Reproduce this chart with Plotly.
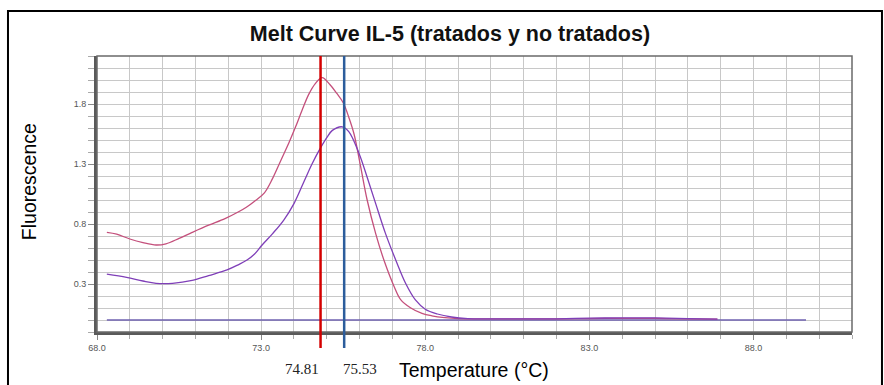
import plotly.graph_objects as go

# ---- data ----
temp_a = [68.3, 68.6, 69.0, 69.4, 69.8, 70.1, 70.5, 70.9, 71.4, 71.9, 72.3, 72.55, 72.8,
          73.1, 73.35, 73.6, 73.85, 74.05, 74.25, 74.45, 74.65, 74.86, 75.1, 75.3, 75.5,
          75.67, 75.83, 76.03, 76.23, 76.49, 76.74, 77.05, 77.25, 77.56, 77.9, 78.2, 78.6,
          79.0, 80.0, 81.0, 82.0, 83.0, 84.0, 85.0, 86.0, 86.9]
fluor_a = [0.73, 0.715, 0.675, 0.645, 0.625, 0.635, 0.68, 0.73, 0.79, 0.845, 0.9, 0.94, 0.99,
           1.06, 1.18, 1.33, 1.48, 1.61, 1.75, 1.88, 1.97, 2.02, 1.96, 1.89, 1.81,
           1.69, 1.55, 1.28, 1.0, 0.72, 0.5, 0.28, 0.17, 0.10, 0.055, 0.035, 0.02,
           0.012, 0.01, 0.01, 0.01, 0.012, 0.014, 0.013, 0.01, 0.008]

temp_b = [68.3, 68.9, 69.4, 69.8, 70.3, 70.9, 71.4, 71.96, 72.3, 72.57, 72.8, 73.03, 73.35,
          73.69, 74.0, 74.3, 74.55, 74.8, 75.0, 75.17, 75.47, 75.67, 75.98, 76.23, 76.49,
          76.79, 77.1, 77.4, 77.7, 78.0, 78.37, 78.8, 79.3, 80.0, 81.0, 82.0, 83.0, 84.0,
          85.0, 86.0, 86.9]
fluor_b = [0.383, 0.356, 0.325, 0.306, 0.306, 0.33, 0.37, 0.417, 0.46, 0.5, 0.55, 0.625, 0.72,
           0.833, 0.97, 1.15, 1.3, 1.43, 1.52, 1.58, 1.61, 1.57, 1.39, 1.19, 0.97,
           0.72, 0.5, 0.306, 0.167, 0.09, 0.05, 0.025, 0.012, 0.01, 0.01, 0.01, 0.015, 0.018,
           0.017, 0.012, 0.008]

baseline_temp = [68.3, 89.6]
baseline_fluor = [0.0, 0.0]

peak_temps = [74.81, 75.53]
peak_labels = ["74.81", "75.53"]
peak_colors = ["#d40000", "#2c5d9c"]

x_range = [68.0, 91.0]
y_range = [-0.1, 2.2]

fig = go.Figure()
fig.add_trace(go.Scatter(x=baseline_temp, y=baseline_fluor, mode="lines",
                         line=dict(color="#6f62b0", width=1.5), hoverinfo="skip"))
fig.add_trace(go.Scatter(x=temp_a, y=fluor_a, mode="lines", line_shape="spline",
                         line=dict(color="#c4507c", width=1.3), name="A"))
fig.add_trace(go.Scatter(x=temp_b, y=fluor_b, mode="lines", line_shape="spline",
                         line=dict(color="#7f3fb8", width=1.3), name="B"))

shapes = []
# plot frame (thin grey top/right)
shapes.append(dict(type="rect", xref="paper", yref="paper", x0=0, x1=1, y0=0, y1=1,
                   line=dict(color="#6a6a6a", width=1.5), layer="above"))
# outer black frame
shapes.append(dict(type="rect", xref="paper", yref="paper", x0=-0.1179, x1=1.0397,
                   y0=-0.3, y1=1.163, line=dict(color="black", width=2)))
annotations = []
for t, lab, c, anchor, dx in zip(peak_temps, peak_labels, peak_colors, ["right", "left"], [0, -3]):
    shapes.append(dict(type="line", xref="x", yref="paper", x0=t, x1=t, y0=-0.058, y1=1,
                       line=dict(color=c, width=2.5), layer="above"))
    annotations.append(dict(x=t, xref="x", y=-0.134, yref="paper", text=lab, showarrow=False,
                            xanchor=anchor, yanchor="middle", xshift=dx,
                            font=dict(family="Liberation Serif", size=15, color="#222")))
annotations.append(dict(x=0.4993, xref="paper", y=-0.138, yref="paper", text="Temperature (°C)",
                        showarrow=False, xanchor="center", yanchor="middle",
                        font=dict(family="Liberation Sans", size=19.5, color="black")))
annotations.append(dict(x=-0.09, xref="paper", y=0.543, yref="paper", text="Fluorescence",
                        showarrow=False, textangle=-90, xanchor="center", yanchor="middle",
                        font=dict(family="Liberation Sans", size=19.5, color="black")))

fig.update_layout(
    width=884, height=385,
    margin=dict(l=97, r=32, t=56, b=53),
    paper_bgcolor="white", plot_bgcolor="white",
    showlegend=False,
    title=dict(text="<b>Melt Curve IL-5 (tratados y no tratados)</b>", x=0.4675, xref="paper",
               xanchor="center", y=1 - 33 / 385, yanchor="middle",
               font=dict(family="Liberation Sans", size=21.5, color="#111")),
    shapes=shapes, annotations=annotations,
)
fig.update_xaxes(range=x_range, tick0=68, dtick=5, tickformat=".1f", ticks="outside", ticklen=5,
                 tickcolor="#888", showgrid=True, gridcolor="#c8c8c8", gridwidth=1,
                 showline=True, linecolor="#5a5a5a", linewidth=3, zeroline=False,
                 tickfont=dict(family="Liberation Sans", size=9, color="#555"),
                 minor=dict(dtick=1, tick0=68, showgrid=True, gridcolor="#c8c8c8", ticks="outside",
                            ticklen=4, tickcolor="#aaa"))
fig.update_yaxes(range=y_range, tick0=0.3, dtick=0.5, tickformat=".1f", ticks="outside", ticklen=6,
                 tickcolor="#888", showgrid=True, gridcolor="#c8c8c8", gridwidth=1,
                 showline=True, linecolor="#5a5a5a", linewidth=3, zeroline=False,
                 tickfont=dict(family="Liberation Sans", size=9, color="#555"),
                 minor=dict(dtick=0.1, tick0=0.0, showgrid=True, gridcolor="#c8c8c8", ticks="outside",
                            ticklen=6, tickcolor="#aaa"))

fig.write_html("out.html")
